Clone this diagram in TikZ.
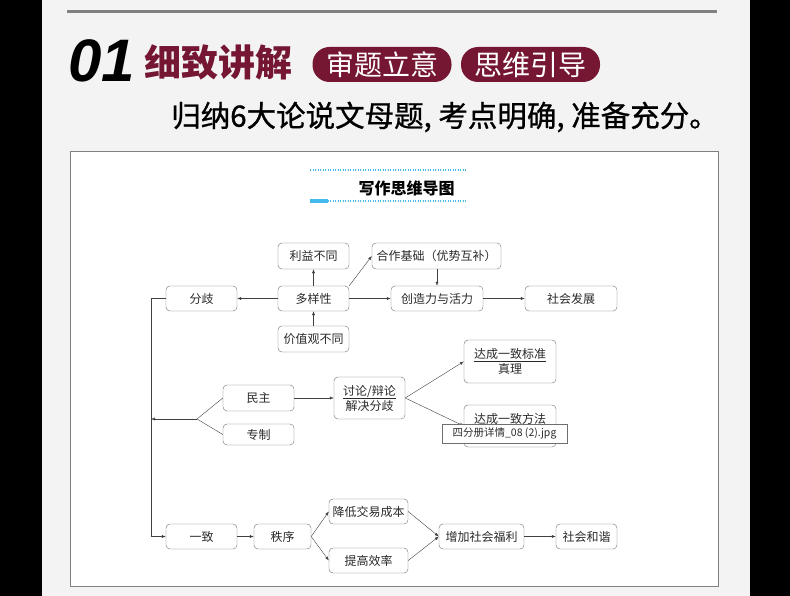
\documentclass[tikz,border=0pt]{standalone}
\usepackage{fontspec}
\setmainfont{Noto Sans CJK SC}
\newfontfamily\numfont{Liberation Sans}
\newfontfamily\subfont[FakeBold=0.9]{Noto Sans CJK SC}
\usepackage{tikz}
\usetikzlibrary{arrows.meta}
\definecolor{maroon}{HTML}{751733}
\definecolor{boxline}{HTML}{6F6F6F}
\definecolor{boxtext}{HTML}{2A2A2A}
\definecolor{pagebg}{HTML}{F3F3F3}
\definecolor{dotcyan}{HTML}{45B8EC}

\begin{document}
\begin{tikzpicture}[x=1pt,y=-1pt,
  mapbox/.style={draw=boxline,fill=white,rounded corners=4pt,inner sep=0pt,
    minimum height=25pt,text=boxtext,align=center,font=\fontsize{12}{15}\selectfont},
  pill/.style={fill=maroon,text=white,rounded corners=17pt,inner sep=0pt,
    minimum height=35pt,minimum width=139pt,font=\fontsize{28}{30}\selectfont},
  tipbox/.style={draw=boxline,fill=white,inner sep=0pt,minimum width=125pt,minimum height=19pt,
    text=boxtext,font=\fontsize{10.5}{12}\selectfont},
  arr/.style={draw=black!75,-{Latex[length=4pt,width=3pt]}},
  link/.style={draw=black!75},
  dotline/.style={dotcyan,line width=1.2pt,dash pattern=on 1.2pt off 1.3pt}]
\fill[black] (0,0) rectangle (790,596);
\fill[pagebg] (42,0) rectangle (750,596);
\draw[line width=3pt,black!50] (67,12) -- (717,12);
\node[inner sep=0pt,font=\numfont\bfseries\itshape\fontsize{60}{60}\selectfont] (num) at (102,61) {01};
\node[inner sep=0pt,text=maroon,font=\bfseries\fontsize{37}{38}\selectfont] (head) at (218,62.5) {细致讲解};
\node[pill] (pillA) at (382,64.5) {审题立意};
\node[pill] (pillB) at (530.5,64.5) {思维引导};
\node[inner sep=0pt,font=\subfont\fontsize{29.5}{31}\selectfont] (sub) at (445,117) {归纳6大论说文母题, 考点明确, 准备充分。};
\draw[black!50,fill=white] (70,151) rectangle (718,586);
\draw[dotline] (310,170) -- (467,170);
\draw[dotline] (310,201) -- (467,201);
\fill[dotcyan] (310,199) rectangle (328,203);
\node[inner sep=0pt,font=\bfseries\fontsize{16}{18}\selectfont] (title) at (406.5,188) {写作思维导图};
\node[mapbox,minimum width=71pt,minimum height=26pt] (lyi) at (313.5,256) {利益不同};
\node[mapbox,minimum width=129pt,minimum height=26pt] (hz) at (436.5,256) {合作基础（优势互补）};
\node[mapbox,minimum width=71pt] (fq) at (201.5,298.5) {分歧};
\node[mapbox,minimum width=71pt] (dyx) at (313.5,298.5) {多样性};
\node[mapbox,minimum width=92pt] (czl) at (437,298.5) {创造力与活力};
\node[mapbox,minimum width=92pt] (shfz) at (571,298.5) {社会发展};
\node[mapbox,minimum width=71pt,minimum height=26pt] (jzg) at (313.5,339) {价值观不同};
\node[mapbox,minimum width=92pt,minimum height=43pt] (bz) at (510,361.5) {\underline{达成一致标准}\\真理};
\node[mapbox,minimum width=71pt,minimum height=26pt] (mz) at (258.5,398) {民主};
\node[mapbox,minimum width=71pt,minimum height=42pt] (tl) at (369.5,398) {\underline{讨论/辩论}\\解决分歧};
\node[mapbox,minimum width=71pt,minimum height=21pt] (zz) at (258.5,434.5) {专制};
\node[mapbox,minimum width=92pt,minimum height=42pt] (ff) at (510,426) {达成一致方法\\\phantom{真理}};
\node[mapbox,minimum width=71pt] (yz) at (201.5,536.5) {一致};
\node[mapbox,minimum width=57pt] (zx) at (282.5,536.5) {秩序};
\node[mapbox,minimum width=79pt] (jd) at (368.5,511.5) {降低交易成本};
\node[mapbox,minimum width=79pt] (tg) at (368.5,560.5) {提高效率};
\node[mapbox,minimum width=85pt] (zj) at (481.5,536.5) {增加社会福利};
\node[mapbox,minimum width=61pt] (hx) at (586.5,536.5) {社会和谐};
\coordinate (spine) at (151,298.5);
\coordinate (jn) at (197,419);
\draw[arr] (dyx) -- (fq);
\draw[arr] (dyx) -- (lyi);
\draw[arr] (jzg) -- (dyx);
\draw[arr] (dyx.north east) -- (hz.west);
\draw[arr] (hz.south -| czl.north) -- (czl.north);
\draw[arr] (dyx) -- (czl);
\draw[arr] (czl) -- (shfz);
\draw[arr] (fq.west) -- (spine) |- (yz.west);
\draw[arr] (jn) -- (jn -| spine);
\draw[link] (jn) -- (mz.west);
\draw[link] (jn) -- (zz.west);
\draw[arr] (mz) -- (tl);
\draw[arr] (tl.east) -- (bz.west);
\draw[arr] (tl.east) -- (ff.west);
\draw[arr] (yz) -- (zx);
\draw[arr] (zx.east) -- (jd.west);
\draw[arr] (zx.east) -- (tg.west);
\draw[arr] (jd.east) -- (zj.west);
\draw[arr] (tg.east) -- (zj.west);
\draw[arr] (zj) -- (hx);
\node[tipbox] (tip) at (504.5,433.5) {四分册详情\_08 (2).jpg};
\end{tikzpicture}
\end{document}
